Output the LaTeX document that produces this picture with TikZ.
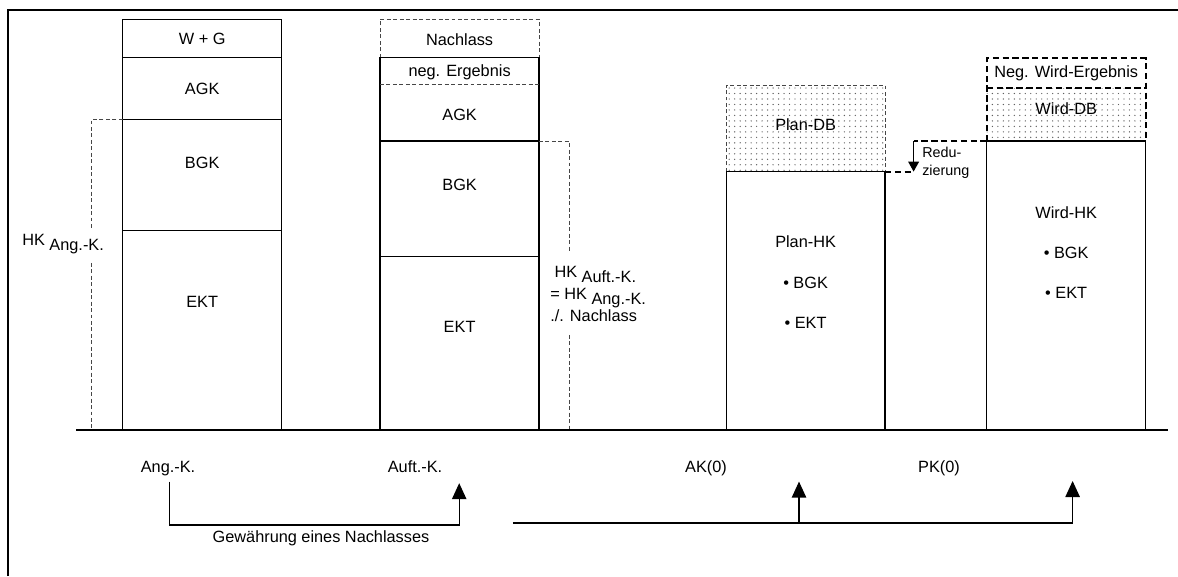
\documentclass[tikz,border=0pt]{standalone}
\usepackage{fontspec}
\setmainfont{Liberation Sans}
\usetikzlibrary{arrows.meta,patterns.meta}

\definecolor{costLine}{RGB}{0,0,0}
\definecolor{costGuide}{RGB}{70,70,70}
\definecolor{costDots}{RGB}{95,95,95}

\begin{document}
\begin{tikzpicture}[x=1cm,y=1cm,
      label/.style={font=\fontsize{11.6}{15.6}\selectfont, text=costLine,
        inner sep=0pt},
      cell/.style={label, text depth=0pt},
      note/.style={font=\fontsize{10.2}{13}\selectfont, text=costLine,
        anchor=west, align=left, inner sep=0pt},
      block/.style={draw=costLine, line width=.9pt},
      guide/.style={draw=costGuide, line width=.6pt,
        dash pattern=on 2.8pt off 1.8pt},
      share/.style={draw=costLine, line width=1.3pt,
        dash pattern=on 4.5pt off 2.5pt},
      margin/.style={pattern={Dots[distance=3.9pt, radius=.5pt]},
        pattern color=costDots},
      flow/.style={draw=costLine, line width=.9pt,
        -{Triangle[length=.4cm,width=.36cm]}}]
      \useasboundingbox (0,0) rectangle (29.45,14.4);
      \draw[costLine, line width=1.5pt] (.21,0) -- (.21,14.16) -- (29.45,14.16);

      % Angebotskalkulation
      \draw[block] (3.07,3.65) rectangle (7.04,13.92);
      \draw[block] (3.07,12.96) -- (7.04,12.96);
      \draw[block] (3.07,11.42) -- (7.04,11.42);
      \draw[block] (3.07,8.63) -- (7.04,8.63);
      \node[cell] (wg) at (5.055,13.43) {W + G};
      \node[cell] (agkAng) at (5.055,12.19) {AGK};
      \node[cell] (bgkAng) at (5.055,10.32) {BGK};
      \node[cell] (ektAng) at (5.055,6.86) {EKT};

      \coordinate (hkAngTop) at (3.07,11.42);
      \coordinate (hkAngUpper) at (2.295,8.65);
      \coordinate (hkAngLower) at (2.295,7.83);
      \coordinate (hkAngFoot) at (2.295,3.65);
      \draw[guide] (hkAngTop) -| (hkAngUpper);
      \draw[guide] (hkAngLower) -- (hkAngFoot);
      \node[label, anchor=base west] (hkAng) at (.55,8.25)
        {HK \raisebox{-3.3pt}{Ang.-K.}};

      % Auftragskalkulation
      \draw[guide] (9.5,12.96) -- (9.5,13.92) -- (13.475,13.92) -- (13.475,12.96);
      \draw[block] (9.5,3.65) rectangle (13.475,12.96);
      \draw[guide] (9.5,12.29) -- (13.475,12.29);
      \draw[block] (9.5,10.875) -- (13.475,10.875);
      \draw[block] (9.5,7.98) -- (13.475,7.98);
      \node[cell] (nachlass) at (11.49,13.42) {Nachlass};
      \node[cell] (negErg) at (11.49,12.63) {neg. Ergebnis};
      \node[cell] (agkAuft) at (11.49,11.53) {AGK};
      \node[cell] (bgkAuft) at (11.49,9.78) {BGK};
      \node[cell] (ektAuft) at (11.49,6.23) {EKT};

      \coordinate (hkAuftTop) at (13.475,10.875);
      \coordinate (hkAuftUpper) at (14.23,8.075);
      \coordinate (hkAuftLower) at (14.23,6.025);
      \coordinate (hkAuftFoot) at (14.23,3.65);
      \draw[guide] (hkAuftTop) -| (hkAuftUpper);
      \draw[guide] (hkAuftLower) -- (hkAuftFoot);
      \node[label, anchor=west, align=left] (hkAuft) at (13.75,7.05)
        {\hspace{3pt}HK \raisebox{-3.3pt}{Auft.-K.}\\
         = HK \raisebox{-3.3pt}{Ang.-K.}\\
         ./. Nachlass};

      % Arbeitskalkulation
      \path[margin] (18.16,10.11) rectangle (22.125,12.275);
      \draw[guide] (18.16,10.11) -- (18.16,12.275) -- (22.125,12.275) -- (22.125,10.11);
      \draw[block] (18.16,3.65) rectangle (22.125,10.11);
      \node[cell] (planDB) at (20.14,11.275) {Plan-DB};
      \node[cell] (planHK) at (20.14,8.36) {Plan-HK};
      \node[cell] (planBGK) at (20.14,7.32) {• BGK};
      \node[cell] (planEKT) at (20.14,6.32) {• EKT};

      % Prognosekalkulation
      \path[margin] (24.67,10.875) rectangle (28.64,12.19);
      \draw[share] (24.67,10.875) -- (24.67,12.94) -- (28.64,12.94) -- (28.64,10.875);
      \draw[share] (24.67,12.19) -- (28.64,12.19);
      \draw[block] (24.67,3.65) rectangle (28.64,10.875);
      \node[cell] (negWird) at (26.655,12.6) {Neg. Wird-Ergebnis};
      \node[cell] (wirdDB) at (26.655,11.675) {Wird-DB};
      \node[cell] (wirdHK) at (26.655,9.09) {Wird-HK};
      \node[cell] (wirdBGK) at (26.655,8.07) {• BGK};
      \node[cell] (wirdEKT) at (26.655,7.07) {• EKT};

      \coordinate (wirdCorner) at (24.67,10.875);
      \coordinate (planCorner) at (22.125,10.11);
      \coordinate (reduTop) at (22.84,10.875);
      \coordinate (reduTip) at (22.84,10.11);
      \draw[share] (wirdCorner) -- (reduTop);
      \draw[share] (planCorner) -- (reduTip);
      \draw[draw=costLine, line width=.9pt,
        -{Triangle[length=.25cm,width=.27cm]}] (reduTop) -- (reduTip);
      \node[note] (redu) at (23.05,10.33) {Redu-\\zierung};

      \draw[costLine, line width=1.2pt] (1.91,3.65) -- (29.2,3.65);

      \node[cell] (angk) at (4.2,2.73) {Ang.-K.};
      \node[cell] (auftk) at (10.375,2.73) {Auft.-K.};
      \node[cell] (ak0) at (17.65,2.73) {AK(0)};
      \node[cell] (pk0) at (23.475,2.73) {PK(0)};

      \coordinate (grantStart) at (4.24,2.36);
      \coordinate (grantEnd) at (11.48,2.32);
      \draw[flow] (grantStart) -- ++(0,-1.085) -| (grantEnd);
      \node[label] (grant) at (8.025,.94) {Gewährung eines Nachlasses};

      \coordinate (orderStart) at (12.82,1.325);
      \coordinate (planMark) at (19.975,2.36);
      \coordinate (wirdMark) at (26.815,2.375);
      \draw[flow] (orderStart) -| (wirdMark);
      \draw[flow] (planMark |- orderStart) -- (planMark);
    \end{tikzpicture}
\end{document}
